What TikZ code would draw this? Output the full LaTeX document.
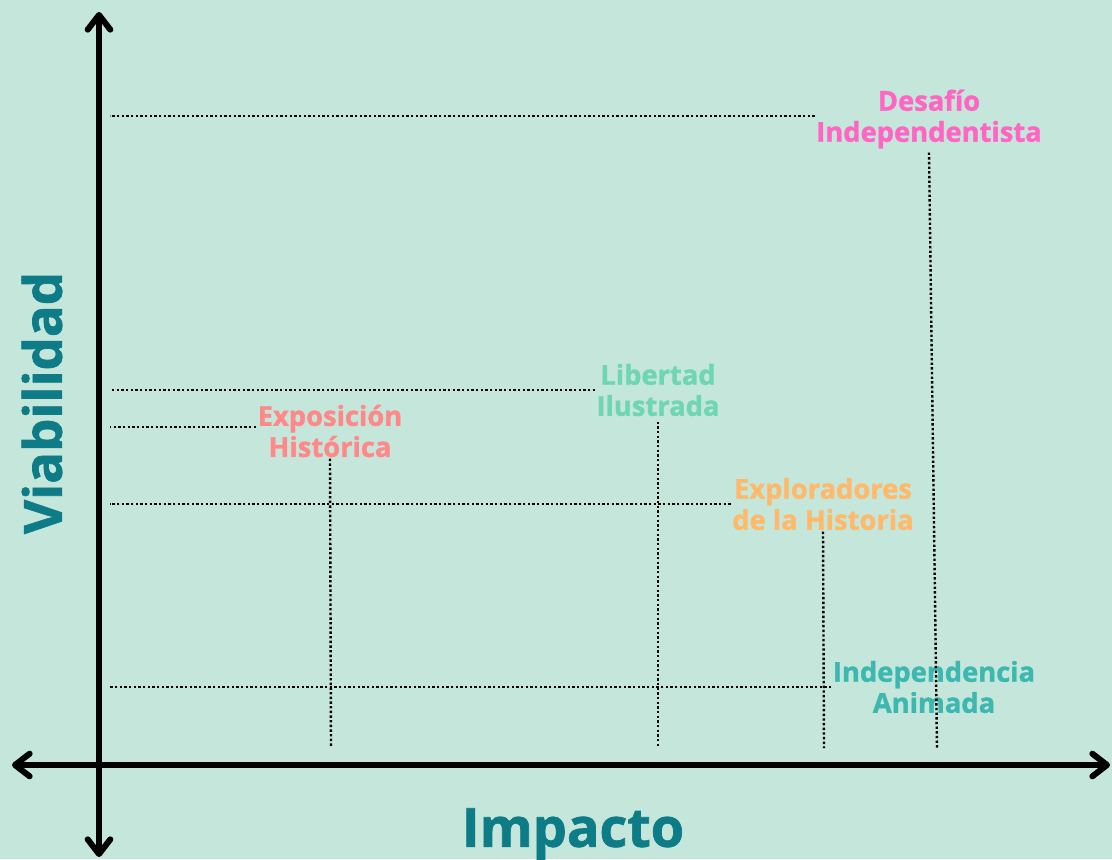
\documentclass[tikz,border=0pt]{standalone}
\usepackage{fontspec}
\setmainfont{Open Sans}[BoldFeatures={FakeBold=1.3}]
\usetikzlibrary{arrows.meta}
\definecolor{bgmint}{HTML}{C5E6DA}
\definecolor{axisteal}{HTML}{0E7C86}
\definecolor{pinkdes}{HTML}{FF66C4}
\definecolor{salmonexp}{HTML}{FF8989}
\definecolor{greenlib}{HTML}{6FD6B4}
\definecolor{orangeexp}{HTML}{FFB96B}
\definecolor{tealind}{HTML}{3DB8B0}

\begin{document}
\begin{tikzpicture}[x=0.75pt,y=-0.75pt,
	axis/.style={line width=4.5pt, line cap=round, {Straight Barb[length=11pt,width=17pt,round]}-{Straight Barb[length=11pt,width=17pt,round]}},
	guide/.style={line width=1.8pt, dash pattern=on 1.8pt off 1.7pt},
	idea/.style={font=\bfseries\fontsize{20.5}{23.3}\selectfont, align=center, inner sep=1pt}]
	\useasboundingbox[fill=bgmint] (0,0) rectangle (1112,859);
	%\draw[help lines] (0,0) grid[step=100] (1112,859);
	% ejes
	\coordinate (vtop) at (99,12);
	\coordinate (vbot) at (99,857);
	\coordinate (hleft) at (12,765);
	\coordinate (hright) at (1110,765);
	\draw[axis] (vbot) -- (vtop);
	\draw[axis] (hleft) -- (hright);
	\node[text=axisteal, font=\bfseries\fontsize{40.5}{46}\selectfont] (impacto) at (573,834) {Impacto};
	\node[text=axisteal, font=\bfseries\fontsize{39.5}{46}\selectfont, rotate=90] (viabilidad) at (42,403) {Viabilidad};
	% ideas
	\node[idea, text=pinkdes] (desafio) at (929,119) {Desafío\\Independentista};
	\node[idea, text=greenlib] (libertad) at (658,390) {Libertad\\Ilustrada};
	\node[idea, text=salmonexp] (exposicion) at (330,431) {Exposición\\Histórica};
	\node[idea, text=orangeexp] (exploradores) at (823,504) {Exploradores\\de la Historia};
	\node[idea, text=tealind] (independencia) at (934,687) {Independencia\\Animada};
	% guias
	\draw[guide] (desafio.west |- 0,116) -- (110,116);
	\draw[guide] ([yshift=-2pt]desafio.south) -- (937,748);
	\draw[guide] (libertad.west) -- (110,390);
	\draw[guide] ([yshift=-3pt]libertad.south) -- (658,748);
	\draw[guide] (exposicion.west |- 0,427) -- (110,427);
	\draw[guide] (exposicion.south) -- (331,748);
	\draw[guide] (exploradores.west) -- (110,504);
	\draw[guide] (exploradores.south) -- (824,748);
	\draw[guide] (independencia.west) -- (110,687);
\end{tikzpicture}
\end{document}
